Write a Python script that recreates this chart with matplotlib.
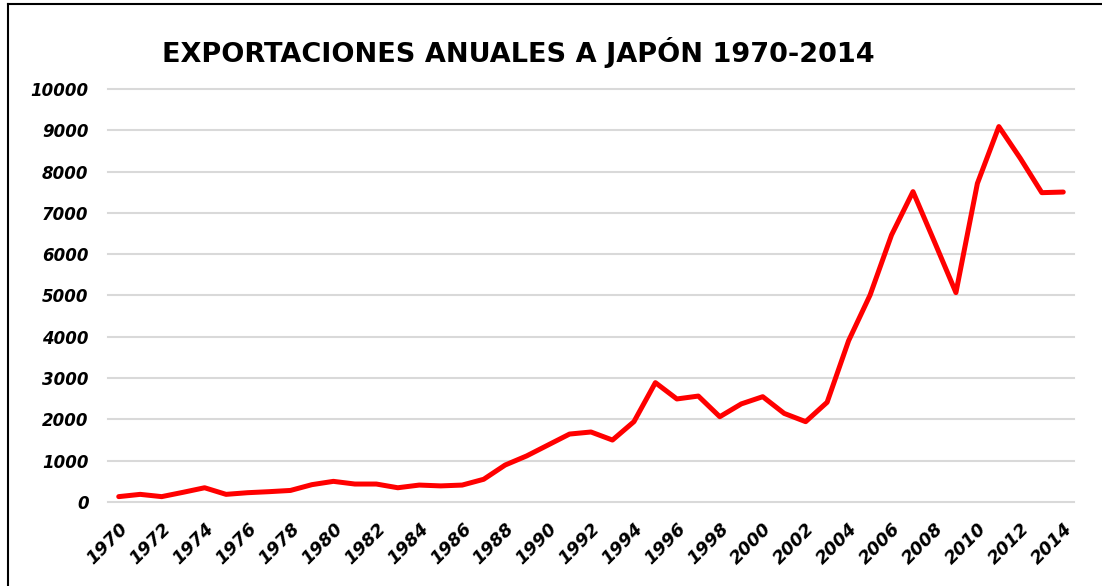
import matplotlib.pyplot as plt
from matplotlib.lines import Line2D

years = list(range(1970, 2015))
exports = [130, 185, 130, 235, 345, 185, 225, 250, 280, 420,
           500, 435, 435, 345, 410, 390, 410, 550, 895, 1115,
           1380, 1645, 1695, 1500, 1945, 2890, 2495, 2565, 2065, 2375,
           2550, 2145, 1945, 2415, 3905, 5010, 6465, 7515, 6300, 5070,
           7715, 9090, 8320, 7490, 7505]
title = 'EXPORTACIONES ANUALES A JAPÓN 1970-2014'

fig = plt.figure(figsize=(11.02, 5.86), dpi=100)
ax = fig.add_axes([108 / 1102, 1 - 502 / 586, (1074 - 108) / 1102, (502 - 89) / 586])

ax.plot(years, exports, color='#ff0000', linewidth=3.6, solid_joinstyle='round',
        solid_capstyle='round', zorder=3)

ax.set_xlim(1969.5, 2014.5)
ax.set_ylim(0, 10000)
ax.set_yticks(range(0, 10001, 1000))
ax.set_xticks(years[::2])
ax.set_xticklabels([str(y) for y in years[::2]], rotation=45, ha='right', va='top',
                   rotation_mode='anchor', fontsize=13, fontweight='bold', style='italic')
for lab in ax.get_yticklabels():
    lab.set_fontsize(12)
    lab.set_fontweight('bold')
    lab.set_style('italic')

ax.grid(axis='y', color='#d9d9d9', linewidth=1.5, zorder=0)
for gl in ax.get_ygridlines():
    gl.set_clip_on(False)
ax.tick_params(axis='both', length=0)
ax.tick_params(axis='y', pad=14)
ax.tick_params(axis='x', pad=13)
for s in ax.spines.values():
    s.set_visible(False)

fig.text(162 / 1102, 1 - 52 / 586, title, fontsize=19.5, fontweight='bold',
         ha='left', va='center')

# partial frame: top and left edges only
fig.lines.append(Line2D([8 / 1102, 8 / 1102], [0, 1 - 4 / 586], transform=fig.transFigure,
                        color='black', linewidth=1.5))
fig.lines.append(Line2D([8 / 1102, 1], [1 - 4 / 586, 1 - 4 / 586], transform=fig.transFigure,
                        color='black', linewidth=1.5))

fig.savefig('out.png', dpi=100)
